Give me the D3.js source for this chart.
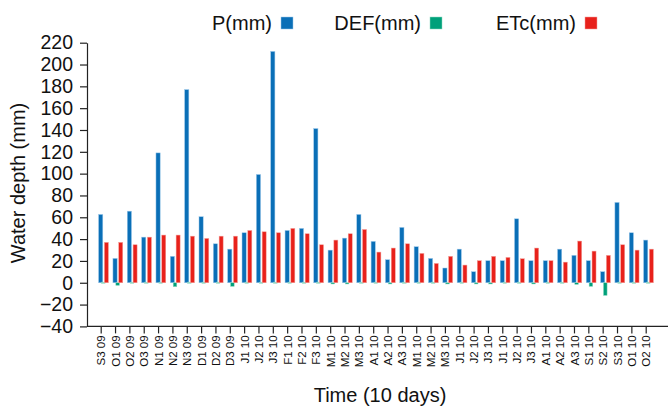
<!DOCTYPE html>
<html>
<head>
<meta charset="utf-8">
<script src="https://cdn.jsdelivr.net/npm/d3@7/dist/d3.min.js"></script>
<style>
  html, body { margin: 0; padding: 0; background: #fff; }
  svg { display: block; font-family: "Liberation Sans", Arial, sans-serif; }
</style>
</head>
<body>
<svg id="chart" width="672" height="408"></svg>
<script>
const categories = ["S3 09","O1 09","O2 09","O3 09","N1 09","N2 09","N3 09","D1 09","D2 09","D3 09",
  "J1 10","J2 10","J3 10","F1 10","F2 10","F3 10","M1 10","M2 10","M3 10","A1 10","A2 10","A3 10",
  "M1 10 ","M2 10 ","M3 10 ","J1 10 ","J2 10 ","J3 10 ","J1 10  ","J2 10  ","J3 10  ",
  "A1 10 ","A2 10 ","A3 10 ","S1 10","S2 10","S3 10","O1 10","O2 10"];
const P = [62.6, 22.3, 65.6, 41.8, 119, 24.2, 177, 60.5, 35.7, 30.8, 45.8, 99.2, 212, 47.9, 49.8, 141.3,
  29.9, 40.9, 62.6, 37.9, 21.1, 50.7, 33, 22.3, 13.5, 30.8, 10.1, 20.2, 20.2, 58.6, 20.2, 20.2, 30.8,
  25.1, 20.2, 10.1, 73.6, 45.8, 39.1];
const DEF = [0, -2.4, 0, 0, 0, -3.6, 0, 0, 0, -3.3, 0, 0, 0, 0, 0, 0, -1, -1, 0, 0, -1, 0, 0, 0, -1,
  0, -1, -1, 0, 0, -1, 0, 0, -1.5, -3.3, -11.6, 0, 0, 0];
const ETc = [37, 37, 34.8, 41.8, 43.7, 43.7, 42.7, 40.6, 42.7, 42.7, 47.9, 46.7, 45.8, 49.8, 44.9, 34.8,
  39.1, 44.9, 48.8, 28.1, 31.8, 35.7, 26.9, 17.7, 24.2, 16.2, 20.2, 24.2, 23.2, 22, 31.8, 20.2, 18.9,
  38.2, 29, 25.1, 34.8, 29.9, 30.8];
const yTicks = [-40, -20, 0, 20, 40, 60, 80, 100, 120, 140, 160, 180, 200, 220];
const seriesNames = ["P(mm)", "DEF(mm)", "ETc(mm)"];

const colors = {P: "#0a6fb7", DEF: "#00a07a", ETc: "#e8211b"};
const strokes = {P: "#9cc8ea", DEF: "#8fd9c2", ETc: "#f4a09a"};

const svg = d3.select("#chart");
const x = d3.scalePoint().domain(categories).range([100.7, 645.7]);
const y = d3.scaleLinear().domain([-40, 220]).range([326.4, 42.7]);
const axisX0 = 87, axisX1 = 668;

// Y axis
const gy = svg.append("g").attr("transform", `translate(${axisX0},0)`)
  .call(d3.axisLeft(y).tickValues(yTicks).tickSize(7).tickPadding(7).tickSizeOuter(0));
gy.select(".domain").attr("stroke", "#222").attr("stroke-width", 1.2);
gy.selectAll(".tick line").attr("stroke", "#222").attr("stroke-width", 1.2);
gy.selectAll(".tick text").attr("font-size", 19.5).attr("fill", "#111")
  .attr("font-family", "Liberation Sans, Arial, sans-serif");

// X axis
const gx = svg.append("g").attr("transform", `translate(0,${y(-40)})`)
  .call(d3.axisBottom(x).tickSize(7).tickSizeOuter(0));
gx.select(".domain").remove();
gx.append("line").attr("x1", axisX0).attr("x2", axisX1).attr("y1", 0).attr("y2", 0)
  .attr("stroke", "#222").attr("stroke-width", 1.2);
gx.selectAll(".tick line").attr("stroke", "#222").attr("stroke-width", 1.2);
gx.selectAll(".tick text")
  .text(d => d.trim())
  .attr("font-size", 11.5).attr("fill", "#111")
  .attr("font-family", "Liberation Sans, Arial, sans-serif")
  .attr("transform", "rotate(-90)")
  .attr("text-anchor", "end")
  .attr("x", -9).attr("y", 0).attr("dy", "0.35em");

// Bars
const bars = svg.append("g");
function drawSeries(vals, key, off, w) {
  bars.selectAll(null).data(vals).enter().append("rect")
    .attr("x", (d, i) => x(categories[i]) + off)
    .attr("width", w)
    .attr("y", d => d >= 0 ? y(d) - (d === 0 ? 0.6 : 0) : y(0))
    .attr("height", d => Math.max(Math.abs(y(d) - y(0)), 1.2))
    .attr("fill", d => d === 0 ? strokes[key] : colors[key])
    .attr("stroke", strokes[key]).attr("stroke-width", 0.5);
}
drawSeries(P, "P", -2.1, 4.2);
drawSeries(DEF, "DEF", 0.8, 3.6);
drawSeries(ETc, "ETc", 3.7, 4.0);

// Axis titles
svg.append("text").attr("x", 380).attr("y", 402).attr("text-anchor", "middle")
  .attr("font-size", 20).attr("fill", "#111").text("Time (10 days)");
svg.append("text").attr("transform", "translate(25,183) rotate(-90)").attr("text-anchor", "middle")
  .attr("font-size", 20).attr("fill", "#111").text("Water depth (mm)");

// Legend
const legendItems = [
  {name: seriesNames[0], key: "P", tx: 272},
  {name: seriesNames[1], key: "DEF", tx: 421},
  {name: seriesNames[2], key: "ETc", tx: 576}
];
const lg = svg.append("g");
legendItems.forEach(it => {
  lg.append("text").attr("x", it.tx).attr("y", 30).attr("text-anchor", "end")
    .attr("font-size", 20).attr("fill", "#111").text(it.name);
  lg.append("rect").attr("x", it.tx + 9).attr("y", 17).attr("width", 12).attr("height", 12)
    .attr("fill", colors[it.key]).attr("stroke", strokes[it.key]).attr("stroke-width", 0.5);
});
</script>
</body>
</html>
